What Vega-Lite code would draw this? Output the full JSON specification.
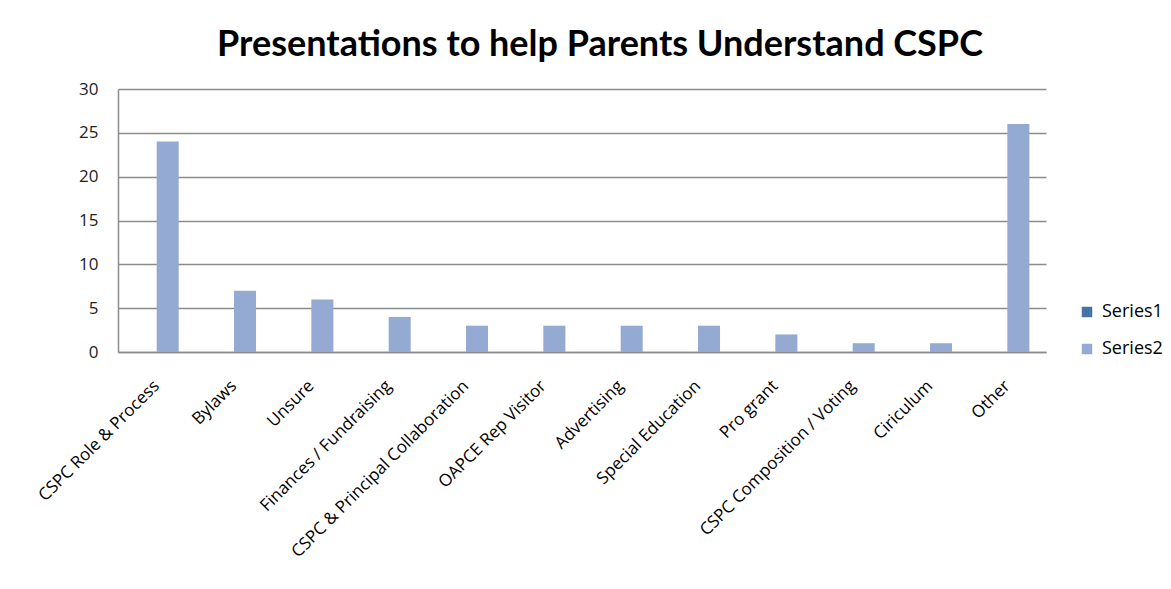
{
  "$schema": "https://vega.github.io/schema/vega-lite/v6.json",
  "width": 928,
  "height": 263,
  "autosize": {"type": "none"},
  "padding": {"left": 118, "top": 89, "right": 125, "bottom": 237},
  "background": "white",
  "title": {
    "text": "Presentations to help Parents Understand CSPC",
    "font": "Lato",
    "fontSize": 36,
    "fontWeight": "bold",
    "color": "#000000",
    "anchor": "middle",
    "dx": 18,
    "offset": 16
  },
  "data": {
    "values": [
      {"topic": "CSPC Role & Process", "series": "Series1", "count": 0},
      {"topic": "Bylaws", "series": "Series1", "count": 0},
      {"topic": "Unsure", "series": "Series1", "count": 0},
      {"topic": "Finances /  Fundraising", "series": "Series1", "count": 0},
      {"topic": "CSPC & Principal Collaboration", "series": "Series1", "count": 0},
      {"topic": "OAPCE Rep Visitor", "series": "Series1", "count": 0},
      {"topic": "Advertising", "series": "Series1", "count": 0},
      {"topic": "Special Education", "series": "Series1", "count": 0},
      {"topic": "Pro grant", "series": "Series1", "count": 0},
      {"topic": "CSPC Composition  / Voting", "series": "Series1", "count": 0},
      {"topic": "Ciriculum", "series": "Series1", "count": 0},
      {"topic": "Other", "series": "Series1", "count": 0},
      {"topic": "CSPC Role & Process", "series": "Series2", "count": 24},
      {"topic": "Bylaws", "series": "Series2", "count": 7},
      {"topic": "Unsure", "series": "Series2", "count": 6},
      {"topic": "Finances /  Fundraising", "series": "Series2", "count": 4},
      {"topic": "CSPC & Principal Collaboration", "series": "Series2", "count": 3},
      {"topic": "OAPCE Rep Visitor", "series": "Series2", "count": 3},
      {"topic": "Advertising", "series": "Series2", "count": 3},
      {"topic": "Special Education", "series": "Series2", "count": 3},
      {"topic": "Pro grant", "series": "Series2", "count": 2},
      {"topic": "CSPC Composition  / Voting", "series": "Series2", "count": 1},
      {"topic": "Ciriculum", "series": "Series2", "count": 1},
      {"topic": "Other", "series": "Series2", "count": 26}
    ]
  },
  "mark": {"type": "bar"},
  "encoding": {
    "x": {
      "field": "topic",
      "type": "nominal",
      "sort": null,
      "title": null,
      "scale": {"paddingInner": 0.43, "paddingOuter": 0.215},
      "axis": {
        "labelAngle": -45,
        "labelAlign": "right",
        "labelBaseline": "middle",
        "labelFont": "Open Sans",
        "labelFontSize": 17,
        "labelColor": "#000000",
        "labelPadding": 31,
        "ticks": false,
        "domainColor": "#8c8c8c",
        "labelLimit": 400
      }
    },
    "xOffset": {"field": "series", "type": "nominal", "scale": {"paddingInner": 0}},
    "y": {
      "field": "count",
      "type": "quantitative",
      "title": null,
      "scale": {"domain": [0, 30], "nice": false},
      "axis": {
        "values": [0, 5, 10, 15, 20, 25, 30],
        "ticks": false,
        "labelFont": "Open Sans",
        "labelFontSize": 17,
        "labelColor": "#222222",
        "labelPadding": 20,
        "domainColor": "#8c8c8c",
        "gridColor": "#8c8c8c",
        "gridOpacity": 1
      }
    },
    "color": {
      "field": "series",
      "type": "nominal",
      "title": null,
      "scale": {"domain": ["Series1", "Series2"], "range": ["#4672A8", "#95AAD2"]},
      "legend": {
        "orient": "none",
        "legendX": 960,
        "legendY": 214,
        "symbolType": "square",
        "symbolSize": 110,
        "symbolStrokeWidth": 0,
        "labelFont": "Open Sans",
        "labelFontSize": 18,
        "labelColor": "#000000",
        "labelOffset": 6,
        "rowPadding": 19,
        "padding": 0,
        "titlePadding": 0
      }
    }
  },
  "config": {
    "view": {"stroke": null},
    "axis": {"gridWidth": 1.3, "domainWidth": 1.5}
  }
}
